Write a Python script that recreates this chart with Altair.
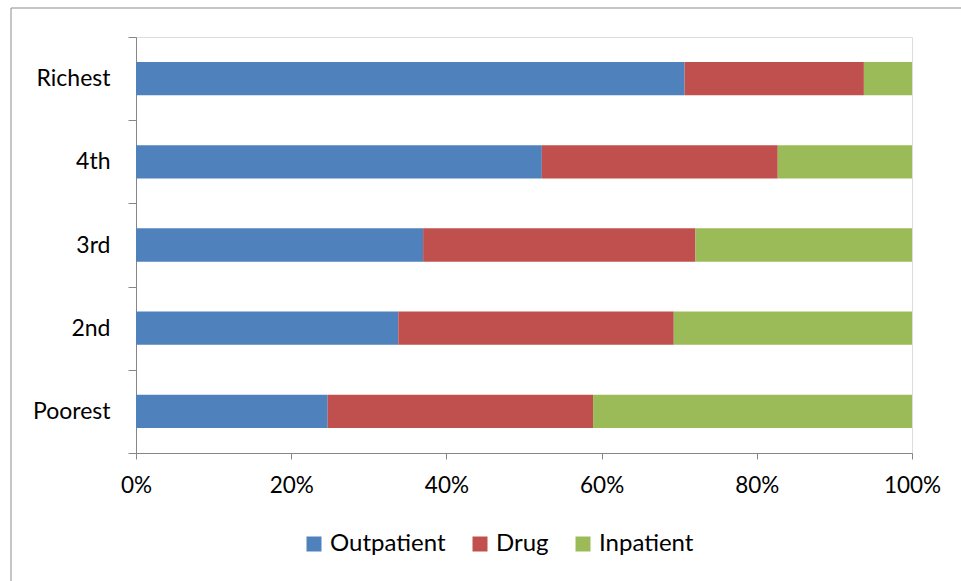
import altair as alt
import pandas as pd

# Share of out-of-pocket spending by component, per wealth quintile (percent)
quintiles = ["Richest", "4th", "3rd", "2nd", "Poorest"]
outpatient = [70.7, 52.3, 37.0, 33.8, 24.7]
drug = [23.1, 30.4, 35.1, 35.5, 34.2]
inpatient = [6.2, 17.3, 27.9, 30.7, 41.1]

components = ["Outpatient", "Drug", "Inpatient"]
colors = ["#4F81BD", "#C0504D", "#9BBB59"]

rows = []
for i, q in enumerate(quintiles):
    for j, (comp, vals) in enumerate(zip(components, [outpatient, drug, inpatient])):
        rows.append({"quintile": q, "component": comp, "share": vals[i], "order": j})
df = pd.DataFrame(rows)

W, H = 776, 416
FONT = "Lato"

bars = alt.Chart(df).mark_bar(height=alt.RelativeBandSize(0.4)).encode(
    y=alt.Y(
        "quintile:N",
        sort=quintiles,
        scale=alt.Scale(paddingInner=0, paddingOuter=0),
        axis=alt.Axis(
            title=None,
            tickBand="extent",
            tickSize=8,
            labelPadding=18,
            labelFontSize=23,
            labelFont=FONT,
            labelColor="#000000",
            domainColor="#868686",
            tickColor="#868686",
        ),
    ),
    x=alt.X(
        "share:Q",
        stack="normalize",
        scale=alt.Scale(domain=[0, 1], nice=False),
        axis=alt.Axis(
            title=None,
            values=[0, 0.2, 0.4, 0.6, 0.8, 1.0],
            format=".0%",
            grid=False,
            tickSize=6,
            labelPadding=15,
            labelFontSize=22.5,
            labelFont=FONT,
            labelColor="#000000",
            domainColor="#868686",
            tickColor="#868686",
            labelFlush=False,
        ),
    ),
    color=alt.Color(
        "component:N",
        sort=components,
        scale=alt.Scale(domain=components, range=colors),
        legend=alt.Legend(
            title=None,
            orient="none",
            direction="horizontal",
            legendX=166,
            legendY=495,
            symbolType="square",
            symbolSize=225,
            symbolStrokeWidth=0,
            symbolOpacity=1,
            labelFontSize=24,
            labelFont=FONT,
            labelColor="#000000",
            labelOffset=4,
            columnPadding=22,
        ),
    ),
    order=alt.Order("order:Q"),
)

# Outer frame around the whole figure
frame = alt.Chart(alt.Data(values=[{}])).mark_rect(
    fill=None, stroke="#8c8c8c", strokeWidth=1
).encode(
    x=alt.value(-125),
    x2=alt.value(840),
    y=alt.value(-29),
    y2=alt.value(560),
)

chart = alt.layer(frame, bars).properties(
    width=W,
    height=H,
    autosize=alt.AutoSizeParams(type="none"),
    padding={"left": 136, "top": 37, "right": 961 - 136 - W, "bottom": 581 - 37 - H},
).configure_view(stroke=None).configure(background="#ffffff")

chart.save("out.html", embed_options={"renderer": "svg", "actions": False})
